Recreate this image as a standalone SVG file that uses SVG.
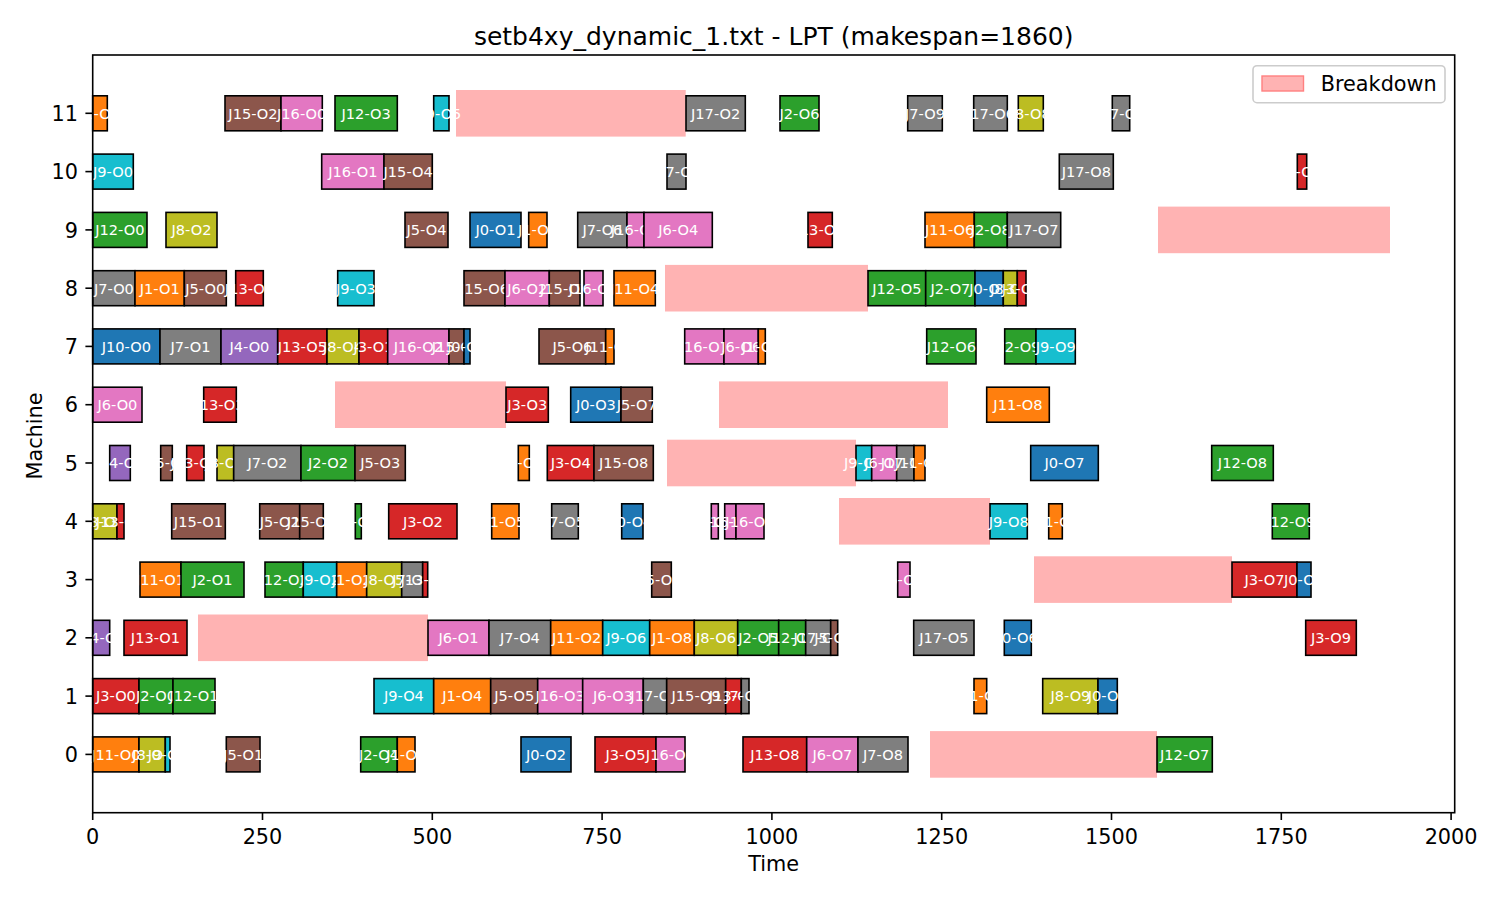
<svg xmlns="http://www.w3.org/2000/svg" width="1500" height="900" viewBox="0 0 1500 900">
<style>
.b{stroke:#000;stroke-width:1.6}
.c0{fill:#1f77b4}.c1{fill:#ff7f0e}.c2{fill:#2ca02c}.c3{fill:#d62728}.c4{fill:#9467bd}
.c5{fill:#8c564b}.c6{fill:#e377c2}.c7{fill:#7f7f7f}.c8{fill:#bcbd22}.c9{fill:#17becf}
.t{font-family:"DejaVu Sans",sans-serif;font-size:14.6px;fill:#fff;text-anchor:middle}
.bd{fill:#ffb3b3}
.ax{font-family:"DejaVu Sans",sans-serif;font-size:20.8px;fill:#000}
.tk{stroke:#000;stroke-width:1.6}
</style>
<rect width="1500" height="900" fill="#fff"/>
<text class="ax" x="773.7" y="45" text-anchor="middle" style="font-size:25px">setb4xy_dynamic_1.txt - LPT (makespan=1860)</text>

<g id="breakdowns">
<rect class="bd" x="456" y="90" width="229.7" height="46.6"/>
<rect class="bd" x="1158" y="206.6" width="232" height="46.6"/>
<rect class="bd" x="665" y="264.9" width="203" height="46.6"/>
<rect class="bd" x="335" y="381.4" width="171" height="46.6"/>
<rect class="bd" x="719" y="381.4" width="229" height="46.6"/>
<rect class="bd" x="667" y="439.7" width="189" height="46.6"/>
<rect class="bd" x="839" y="498" width="151" height="46.6"/>
<rect class="bd" x="1034" y="556.3" width="198" height="46.6"/>
<rect class="bd" x="198" y="614.5" width="230" height="46.6"/>
<rect class="bd" x="930" y="731.1" width="227" height="46.6"/>
</g>

<g id="machine-11" transform="translate(0,113.3)">
<g id="J1-O0"><rect class="b c1" x="92.7" y="-17.5" width="14.6" height="35"/><text class="t" x="100" y="5.3">J1-O0</text></g>
<g id="J15-O2"><rect class="b c5" x="225" y="-17.5" width="56" height="35"/><text class="t" x="253" y="5.3">J15-O2</text></g>
<g id="J16-O0"><rect class="b c6" x="281" y="-17.5" width="41.3" height="35"/><text class="t" x="301.7" y="5.3">J16-O0</text></g>
<g id="J12-O3"><rect class="b c2" x="335" y="-17.5" width="62.3" height="35"/><text class="t" x="366.2" y="5.3">J12-O3</text></g>
<g id="J9-O5"><rect class="b c9" x="433.7" y="-17.5" width="15.3" height="35"/><text class="t" x="441.4" y="5.3">J9-O5</text></g>
<g id="J17-O2"><rect class="b c7" x="686" y="-17.5" width="59.3" height="35"/><text class="t" x="715.7" y="5.3">J17-O2</text></g>
<g id="J2-O6"><rect class="b c2" x="780" y="-17.5" width="39" height="35"/><text class="t" x="799.5" y="5.3">J2-O6</text></g>
<g id="J7-O9"><rect class="b c7" x="907.7" y="-17.5" width="34.6" height="35"/><text class="t" x="925" y="5.3">J7-O9</text></g>
<g id="J17-O6"><rect class="b c7" x="973.7" y="-17.5" width="33.6" height="35"/><text class="t" x="990.5" y="5.3">J17-O6</text></g>
<g id="J8-O8"><rect class="b c8" x="1018.3" y="-17.5" width="25" height="35"/><text class="t" x="1030.8" y="5.3">J8-O8</text></g>
<g id="J17-O9"><rect class="b c7" x="1112.3" y="-17.5" width="17.4" height="35"/><text class="t" x="1121" y="5.3">J17-O9</text></g>
</g>

<g id="machine-10" transform="translate(0,171.6)">
<g id="J9-O0"><rect class="b c9" x="92.7" y="-17.5" width="40.6" height="35"/><text class="t" x="113" y="5.3">J9-O0</text></g>
<g id="J16-O1"><rect class="b c6" x="321.7" y="-17.5" width="62.3" height="35"/><text class="t" x="352.9" y="5.3">J16-O1</text></g>
<g id="J15-O4"><rect class="b c5" x="384" y="-17.5" width="48.3" height="35"/><text class="t" x="408.2" y="5.3">J15-O4</text></g>
<g id="J17-O1"><rect class="b c7" x="667" y="-17.5" width="19" height="35"/><text class="t" x="676.5" y="5.3">J17-O1</text></g>
<g id="J17-O8"><rect class="b c7" x="1059.3" y="-17.5" width="54" height="35"/><text class="t" x="1086.3" y="5.3">J17-O8</text></g>
<g id="J3-O8"><rect class="b c3" x="1297.3" y="-17.5" width="9.4" height="35"/><text class="t" x="1302" y="5.3">J3-O8</text></g>
</g>

<g id="machine-9" transform="translate(0,229.9)">
<g id="J12-O0"><rect class="b c2" x="92.7" y="-17.5" width="54.3" height="35"/><text class="t" x="119.9" y="5.3">J12-O0</text></g>
<g id="J8-O2"><rect class="b c8" x="166" y="-17.5" width="51" height="35"/><text class="t" x="191.5" y="5.3">J8-O2</text></g>
<g id="J5-O4"><rect class="b c5" x="405" y="-17.5" width="43" height="35"/><text class="t" x="426.5" y="5.3">J5-O4</text></g>
<g id="J0-O1"><rect class="b c0" x="470" y="-17.5" width="51" height="35"/><text class="t" x="495.5" y="5.3">J0-O1</text></g>
<g id="J1-O7"><rect class="b c1" x="528.7" y="-17.5" width="18.3" height="35"/><text class="t" x="537.9" y="5.3">J1-O7</text></g>
<g id="J7-O6"><rect class="b c7" x="577.7" y="-17.5" width="49.3" height="35"/><text class="t" x="602.4" y="5.3">J7-O6</text></g>
<g id="J16-O5"><rect class="b c6" x="627" y="-17.5" width="17" height="35"/><text class="t" x="635.5" y="5.3">J16-O5</text></g>
<g id="J6-O4"><rect class="b c6" x="644" y="-17.5" width="68.3" height="35"/><text class="t" x="678.2" y="5.3">J6-O4</text></g>
<g id="J13-O9"><rect class="b c3" x="808" y="-17.5" width="24.3" height="35"/><text class="t" x="820.2" y="5.3">J13-O9</text></g>
<g id="J11-O6"><rect class="b c1" x="925" y="-17.5" width="49.3" height="35"/><text class="t" x="949.7" y="5.3">J11-O6</text></g>
<g id="J2-O8"><rect class="b c2" x="974.3" y="-17.5" width="33" height="35"/><text class="t" x="990.8" y="5.3">J2-O8</text></g>
<g id="J17-O7"><rect class="b c7" x="1007.3" y="-17.5" width="53.4" height="35"/><text class="t" x="1034" y="5.3">J17-O7</text></g>
</g>

<g id="machine-8" transform="translate(0,288.2)">
<g id="J7-O0"><rect class="b c7" x="92.7" y="-17.5" width="42.3" height="35"/><text class="t" x="113.9" y="5.3">J7-O0</text></g>
<g id="J1-O1"><rect class="b c1" x="135" y="-17.5" width="49.3" height="35"/><text class="t" x="159.7" y="5.3">J1-O1</text></g>
<g id="J5-O0"><rect class="b c5" x="184.3" y="-17.5" width="42" height="35"/><text class="t" x="205.3" y="5.3">J5-O0</text></g>
<g id="J13-O4"><rect class="b c3" x="235.7" y="-17.5" width="27.6" height="35"/><text class="t" x="249.5" y="5.3">J13-O4</text></g>
<g id="J9-O3"><rect class="b c9" x="337.7" y="-17.5" width="36.3" height="35"/><text class="t" x="355.9" y="5.3">J9-O3</text></g>
<g id="J15-O6"><rect class="b c5" x="464" y="-17.5" width="41" height="35"/><text class="t" x="484.5" y="5.3">J15-O6</text></g>
<g id="J6-O2"><rect class="b c6" x="505" y="-17.5" width="44.3" height="35"/><text class="t" x="527.2" y="5.3">J6-O2</text></g>
<g id="J15-O7"><rect class="b c5" x="549.3" y="-17.5" width="30.7" height="35"/><text class="t" x="564.7" y="5.3">J15-O7</text></g>
<g id="J16-O4"><rect class="b c6" x="584" y="-17.5" width="19" height="35"/><text class="t" x="593.5" y="5.3">J16-O4</text></g>
<g id="J11-O4"><rect class="b c1" x="614" y="-17.5" width="41.3" height="35"/><text class="t" x="634.7" y="5.3">J11-O4</text></g>
<g id="J12-O5"><rect class="b c2" x="868" y="-17.5" width="57.7" height="35"/><text class="t" x="896.9" y="5.3">J12-O5</text></g>
<g id="J2-O7"><rect class="b c2" x="925.7" y="-17.5" width="49.3" height="35"/><text class="t" x="950.4" y="5.3">J2-O7</text></g>
<g id="J0-O5"><rect class="b c0" x="975" y="-17.5" width="28.3" height="35"/><text class="t" x="989.2" y="5.3">J0-O5</text></g>
<g id="J8-O7"><rect class="b c8" x="1003.3" y="-17.5" width="14" height="35"/><text class="t" x="1010.3" y="5.3">J8-O7</text></g>
<g id="J3-O6"><rect class="b c3" x="1017.3" y="-17.5" width="8.7" height="35"/><text class="t" x="1021.7" y="5.3">J3-O6</text></g>
</g>

<g id="machine-7" transform="translate(0,346.4)">
<g id="J10-O0"><rect class="b c0" x="92.7" y="-17.5" width="67.3" height="35"/><text class="t" x="126.4" y="5.3">J10-O0</text></g>
<g id="J7-O1"><rect class="b c7" x="160" y="-17.5" width="61" height="35"/><text class="t" x="190.5" y="5.3">J7-O1</text></g>
<g id="J4-O0"><rect class="b c4" x="221" y="-17.5" width="56.7" height="35"/><text class="t" x="249.4" y="5.3">J4-O0</text></g>
<g id="J13-O5"><rect class="b c3" x="277.7" y="-17.5" width="49.3" height="35"/><text class="t" x="302.4" y="5.3">J13-O5</text></g>
<g id="J8-O4"><rect class="b c8" x="327" y="-17.5" width="32" height="35"/><text class="t" x="343" y="5.3">J8-O4</text></g>
<g id="J3-O1"><rect class="b c3" x="359" y="-17.5" width="28.7" height="35"/><text class="t" x="373.4" y="5.3">J3-O1</text></g>
<g id="J16-O2"><rect class="b c6" x="387.7" y="-17.5" width="61.3" height="35"/><text class="t" x="418.4" y="5.3">J16-O2</text></g>
<g id="J15-O5"><rect class="b c5" x="449" y="-17.5" width="15" height="35"/><text class="t" x="456.5" y="5.3">J15-O5</text></g>
<g id="J0-O0"><rect class="b c0" x="464" y="-17.5" width="6" height="35"/><text class="t" x="467" y="5.3">J0-O0</text></g>
<g id="J5-O6"><rect class="b c5" x="539" y="-17.5" width="66.7" height="35"/><text class="t" x="572.4" y="5.3">J5-O6</text></g>
<g id="J11-O3"><rect class="b c1" x="605.7" y="-17.5" width="8.3" height="35"/><text class="t" x="609.9" y="5.3">J11-O3</text></g>
<g id="J16-O7"><rect class="b c6" x="684.7" y="-17.5" width="39.3" height="35"/><text class="t" x="704.4" y="5.3">J16-O7</text></g>
<g id="J6-O6"><rect class="b c6" x="724" y="-17.5" width="34.3" height="35"/><text class="t" x="741.2" y="5.3">J6-O6</text></g>
<g id="J1-O9"><rect class="b c1" x="758.3" y="-17.5" width="7" height="35"/><text class="t" x="761.8" y="5.3">J1-O9</text></g>
<g id="J12-O6"><rect class="b c2" x="926.7" y="-17.5" width="49.3" height="35"/><text class="t" x="951.4" y="5.3">J12-O6</text></g>
<g id="J2-O9"><rect class="b c2" x="1004.7" y="-17.5" width="31.3" height="35"/><text class="t" x="1020.4" y="5.3">J2-O9</text></g>
<g id="J9-O9"><rect class="b c9" x="1036" y="-17.5" width="39.3" height="35"/><text class="t" x="1055.7" y="5.3">J9-O9</text></g>
</g>

<g id="machine-6" transform="translate(0,404.7)">
<g id="J6-O0"><rect class="b c6" x="92.7" y="-17.5" width="49.3" height="35"/><text class="t" x="117.4" y="5.3">J6-O0</text></g>
<g id="J13-O3"><rect class="b c3" x="203.7" y="-17.5" width="32.6" height="35"/><text class="t" x="220" y="5.3">J13-O3</text></g>
<g id="J3-O3"><rect class="b c3" x="506" y="-17.5" width="42.3" height="35"/><text class="t" x="527.2" y="5.3">J3-O3</text></g>
<g id="J0-O3"><rect class="b c0" x="570.7" y="-17.5" width="50.3" height="35"/><text class="t" x="595.9" y="5.3">J0-O3</text></g>
<g id="J5-O7"><rect class="b c5" x="621" y="-17.5" width="31.3" height="35"/><text class="t" x="636.7" y="5.3">J5-O7</text></g>
<g id="J11-O8"><rect class="b c1" x="986.7" y="-17.5" width="62.6" height="35"/><text class="t" x="1018" y="5.3">J11-O8</text></g>
</g>

<g id="machine-5" transform="translate(0,463)">
<g id="J14-O1"><rect class="b c4" x="109.7" y="-17.5" width="20.6" height="35"/><text class="t" x="120" y="5.3">J14-O1</text></g>
<g id="J15-O0"><rect class="b c5" x="160.7" y="-17.5" width="11.6" height="35"/><text class="t" x="166.5" y="5.3">J15-O0</text></g>
<g id="J13-O2"><rect class="b c3" x="186.7" y="-17.5" width="17.3" height="35"/><text class="t" x="195.4" y="5.3">J13-O2</text></g>
<g id="J8-O3"><rect class="b c8" x="217" y="-17.5" width="16.7" height="35"/><text class="t" x="225.4" y="5.3">J8-O3</text></g>
<g id="J7-O2"><rect class="b c7" x="233.7" y="-17.5" width="67.3" height="35"/><text class="t" x="267.4" y="5.3">J7-O2</text></g>
<g id="J2-O2"><rect class="b c2" x="301" y="-17.5" width="54" height="35"/><text class="t" x="328" y="5.3">J2-O2</text></g>
<g id="J5-O3"><rect class="b c5" x="355" y="-17.5" width="50.3" height="35"/><text class="t" x="380.2" y="5.3">J5-O3</text></g>
<g id="J1-O6"><rect class="b c1" x="518.3" y="-17.5" width="11" height="35"/><text class="t" x="523.8" y="5.3">J1-O6</text></g>
<g id="J3-O4"><rect class="b c3" x="547.3" y="-17.5" width="46.7" height="35"/><text class="t" x="570.7" y="5.3">J3-O4</text></g>
<g id="J15-O8"><rect class="b c5" x="594" y="-17.5" width="59.3" height="35"/><text class="t" x="623.7" y="5.3">J15-O8</text></g>
<g id="J9-O7"><rect class="b c9" x="856" y="-17.5" width="15.7" height="35"/><text class="t" x="863.9" y="5.3">J9-O7</text></g>
<g id="J6-O8"><rect class="b c6" x="871.7" y="-17.5" width="25" height="35"/><text class="t" x="884.2" y="5.3">J6-O8</text></g>
<g id="J17-O4"><rect class="b c7" x="896.7" y="-17.5" width="17.3" height="35"/><text class="t" x="905.4" y="5.3">J17-O4</text></g>
<g id="J11-O5"><rect class="b c1" x="914" y="-17.5" width="11" height="35"/><text class="t" x="919.5" y="5.3">J11-O5</text></g>
<g id="J0-O7"><rect class="b c0" x="1030.7" y="-17.5" width="67.6" height="35"/><text class="t" x="1064.5" y="5.3">J0-O7</text></g>
<g id="J12-O8"><rect class="b c2" x="1211.7" y="-17.5" width="61.6" height="35"/><text class="t" x="1242.5" y="5.3">J12-O8</text></g>
</g>

<g id="machine-4" transform="translate(0,521.3)">
<g id="J8-O0"><rect class="b c8" x="92.7" y="-17.5" width="24.3" height="35"/><text class="t" x="104.9" y="5.3">J8-O0</text></g>
<g id="J13-O0"><rect class="b c3" x="117" y="-17.5" width="7" height="35"/><text class="t" x="120.5" y="5.3">J13-O0</text></g>
<g id="J15-O1"><rect class="b c5" x="171.7" y="-17.5" width="53.6" height="35"/><text class="t" x="198.5" y="5.3">J15-O1</text></g>
<g id="J5-O2"><rect class="b c5" x="259.7" y="-17.5" width="40" height="35"/><text class="t" x="279.7" y="5.3">J5-O2</text></g>
<g id="J15-O3"><rect class="b c5" x="299.7" y="-17.5" width="23.6" height="35"/><text class="t" x="311.5" y="5.3">J15-O3</text></g>
<g id="J2-O3"><rect class="b c2" x="355.3" y="-17.5" width="6" height="35"/><text class="t" x="358.3" y="5.3">J2-O3</text></g>
<g id="J3-O2"><rect class="b c3" x="388.7" y="-17.5" width="68.3" height="35"/><text class="t" x="422.9" y="5.3">J3-O2</text></g>
<g id="J1-O5"><rect class="b c1" x="491.7" y="-17.5" width="27.3" height="35"/><text class="t" x="505.4" y="5.3">J1-O5</text></g>
<g id="J7-O5"><rect class="b c7" x="551.7" y="-17.5" width="26.6" height="35"/><text class="t" x="565" y="5.3">J7-O5</text></g>
<g id="J0-O4"><rect class="b c0" x="621.7" y="-17.5" width="21.3" height="35"/><text class="t" x="632.4" y="5.3">J0-O4</text></g>
<g id="J6-O5"><rect class="b c6" x="711.3" y="-17.5" width="7" height="35"/><text class="t" x="714.8" y="5.3">J6-O5</text></g>
<g id="J16-O8"><rect class="b c6" x="724.7" y="-17.5" width="11.3" height="35"/><text class="t" x="730.4" y="5.3">J16-O8</text></g>
<g id="J16-O9"><rect class="b c6" x="736" y="-17.5" width="28" height="35"/><text class="t" x="750" y="5.3">J16-O9</text></g>
<g id="J9-O8"><rect class="b c9" x="990" y="-17.5" width="37.3" height="35"/><text class="t" x="1008.7" y="5.3">J9-O8</text></g>
<g id="J11-O9"><rect class="b c1" x="1048.7" y="-17.5" width="13.6" height="35"/><text class="t" x="1055.5" y="5.3">J11-O9</text></g>
<g id="J12-O9"><rect class="b c2" x="1272.3" y="-17.5" width="37" height="35"/><text class="t" x="1290.8" y="5.3">J12-O9</text></g>
</g>

<g id="machine-3" transform="translate(0,579.6)">
<g id="J11-O1"><rect class="b c1" x="140" y="-17.5" width="41" height="35"/><text class="t" x="160.5" y="5.3">J11-O1</text></g>
<g id="J2-O1"><rect class="b c2" x="181" y="-17.5" width="63" height="35"/><text class="t" x="212.5" y="5.3">J2-O1</text></g>
<g id="J12-O2"><rect class="b c2" x="265" y="-17.5" width="38.3" height="35"/><text class="t" x="284.2" y="5.3">J12-O2</text></g>
<g id="J9-O2"><rect class="b c9" x="303.3" y="-17.5" width="33.4" height="35"/><text class="t" x="320" y="5.3">J9-O2</text></g>
<g id="J1-O2"><rect class="b c1" x="336.7" y="-17.5" width="30" height="35"/><text class="t" x="351.7" y="5.3">J1-O2</text></g>
<g id="J8-O5"><rect class="b c8" x="366.7" y="-17.5" width="35" height="35"/><text class="t" x="384.2" y="5.3">J8-O5</text></g>
<g id="J7-O3"><rect class="b c7" x="401.7" y="-17.5" width="21" height="35"/><text class="t" x="412.2" y="5.3">J7-O3</text></g>
<g id="J13-O6"><rect class="b c3" x="422.7" y="-17.5" width="5" height="35"/><text class="t" x="425.2" y="5.3">J13-O6</text></g>
<g id="J5-O8"><rect class="b c5" x="651.7" y="-17.5" width="19.6" height="35"/><text class="t" x="661.5" y="5.3">J5-O8</text></g>
<g id="J6-O9"><rect class="b c6" x="897.7" y="-17.5" width="12.3" height="35"/><text class="t" x="903.9" y="5.3">J6-O9</text></g>
<g id="J3-O7"><rect class="b c3" x="1232" y="-17.5" width="65" height="35"/><text class="t" x="1264.5" y="5.3">J3-O7</text></g>
<g id="J0-O9"><rect class="b c0" x="1297" y="-17.5" width="14" height="35"/><text class="t" x="1304" y="5.3">J0-O9</text></g>
</g>

<g id="machine-2" transform="translate(0,637.8)">
<g id="J14-O0"><rect class="b c4" x="92.7" y="-17.5" width="17" height="35"/><text class="t" x="101.2" y="5.3">J14-O0</text></g>
<g id="J13-O1"><rect class="b c3" x="124" y="-17.5" width="63" height="35"/><text class="t" x="155.5" y="5.3">J13-O1</text></g>
<g id="J6-O1"><rect class="b c6" x="428" y="-17.5" width="61" height="35"/><text class="t" x="458.5" y="5.3">J6-O1</text></g>
<g id="J7-O4"><rect class="b c7" x="489" y="-17.5" width="61.7" height="35"/><text class="t" x="519.9" y="5.3">J7-O4</text></g>
<g id="J11-O2"><rect class="b c1" x="550.7" y="-17.5" width="52" height="35"/><text class="t" x="576.7" y="5.3">J11-O2</text></g>
<g id="J9-O6"><rect class="b c9" x="602.7" y="-17.5" width="47" height="35"/><text class="t" x="626.2" y="5.3">J9-O6</text></g>
<g id="J1-O8"><rect class="b c1" x="649.7" y="-17.5" width="44.6" height="35"/><text class="t" x="672" y="5.3">J1-O8</text></g>
<g id="J8-O6"><rect class="b c8" x="694.3" y="-17.5" width="43.4" height="35"/><text class="t" x="716" y="5.3">J8-O6</text></g>
<g id="J2-O5"><rect class="b c2" x="737.7" y="-17.5" width="41" height="35"/><text class="t" x="758.2" y="5.3">J2-O5</text></g>
<g id="J12-O4"><rect class="b c2" x="778.7" y="-17.5" width="27" height="35"/><text class="t" x="792.2" y="5.3">J12-O4</text></g>
<g id="J17-O3"><rect class="b c7" x="805.7" y="-17.5" width="25" height="35"/><text class="t" x="818.2" y="5.3">J17-O3</text></g>
<g id="J5-O9"><rect class="b c5" x="830.7" y="-17.5" width="7" height="35"/><text class="t" x="834.2" y="5.3">J5-O9</text></g>
<g id="J17-O5"><rect class="b c7" x="913.7" y="-17.5" width="60.3" height="35"/><text class="t" x="943.9" y="5.3">J17-O5</text></g>
<g id="J0-O6"><rect class="b c0" x="1004.3" y="-17.5" width="27" height="35"/><text class="t" x="1017.8" y="5.3">J0-O6</text></g>
<g id="J3-O9"><rect class="b c3" x="1305.7" y="-17.5" width="50.6" height="35"/><text class="t" x="1331" y="5.3">J3-O9</text></g>
</g>

<g id="machine-1" transform="translate(0,696.1)">
<g id="J3-O0"><rect class="b c3" x="92.7" y="-17.5" width="46.3" height="35"/><text class="t" x="115.9" y="5.3">J3-O0</text></g>
<g id="J2-O0"><rect class="b c2" x="139" y="-17.5" width="34" height="35"/><text class="t" x="156" y="5.3">J2-O0</text></g>
<g id="J12-O1"><rect class="b c2" x="173" y="-17.5" width="42" height="35"/><text class="t" x="194" y="5.3">J12-O1</text></g>
<g id="J9-O4"><rect class="b c9" x="374" y="-17.5" width="59.7" height="35"/><text class="t" x="403.9" y="5.3">J9-O4</text></g>
<g id="J1-O4"><rect class="b c1" x="433.7" y="-17.5" width="57" height="35"/><text class="t" x="462.2" y="5.3">J1-O4</text></g>
<g id="J5-O5"><rect class="b c5" x="490.7" y="-17.5" width="47" height="35"/><text class="t" x="514.2" y="5.3">J5-O5</text></g>
<g id="J16-O3"><rect class="b c6" x="537.7" y="-17.5" width="45" height="35"/><text class="t" x="560.2" y="5.3">J16-O3</text></g>
<g id="J6-O3"><rect class="b c6" x="582.7" y="-17.5" width="60.6" height="35"/><text class="t" x="613" y="5.3">J6-O3</text></g>
<g id="J17-O0"><rect class="b c7" x="643.3" y="-17.5" width="23.4" height="35"/><text class="t" x="655" y="5.3">J17-O0</text></g>
<g id="J15-O9"><rect class="b c5" x="666.7" y="-17.5" width="59" height="35"/><text class="t" x="696.2" y="5.3">J15-O9</text></g>
<g id="J13-O7"><rect class="b c3" x="725.7" y="-17.5" width="15.6" height="35"/><text class="t" x="733.5" y="5.3">J13-O7</text></g>
<g id="J7-O7"><rect class="b c7" x="741.3" y="-17.5" width="7.7" height="35"/><text class="t" x="745.2" y="5.3">J7-O7</text></g>
<g id="J11-O7"><rect class="b c1" x="974" y="-17.5" width="12.7" height="35"/><text class="t" x="980.4" y="5.3">J11-O7</text></g>
<g id="J8-O9"><rect class="b c8" x="1042.7" y="-17.5" width="55.3" height="35"/><text class="t" x="1070.4" y="5.3">J8-O9</text></g>
<g id="J0-O8"><rect class="b c0" x="1098" y="-17.5" width="19.3" height="35"/><text class="t" x="1107.7" y="5.3">J0-O8</text></g>
</g>

<g id="machine-0" transform="translate(0,754.4)">
<g id="J11-O0"><rect class="b c1" x="92.7" y="-17.5" width="46.3" height="35"/><text class="t" x="115.9" y="5.3">J11-O0</text></g>
<g id="J8-O1"><rect class="b c8" x="139" y="-17.5" width="26.3" height="35"/><text class="t" x="152.2" y="5.3">J8-O1</text></g>
<g id="J9-O1"><rect class="b c9" x="165.3" y="-17.5" width="4.7" height="35"/><text class="t" x="167.7" y="5.3">J9-O1</text></g>
<g id="J5-O1"><rect class="b c5" x="226.3" y="-17.5" width="33.7" height="35"/><text class="t" x="243.2" y="5.3">J5-O1</text></g>
<g id="J2-O4"><rect class="b c2" x="360.7" y="-17.5" width="36.6" height="35"/><text class="t" x="379" y="5.3">J2-O4</text></g>
<g id="J1-O3"><rect class="b c1" x="397.3" y="-17.5" width="17.7" height="35"/><text class="t" x="406.2" y="5.3">J1-O3</text></g>
<g id="J0-O2"><rect class="b c0" x="521" y="-17.5" width="50" height="35"/><text class="t" x="546" y="5.3">J0-O2</text></g>
<g id="J3-O5"><rect class="b c3" x="595" y="-17.5" width="61" height="35"/><text class="t" x="625.5" y="5.3">J3-O5</text></g>
<g id="J16-O6"><rect class="b c6" x="656" y="-17.5" width="29" height="35"/><text class="t" x="670.5" y="5.3">J16-O6</text></g>
<g id="J13-O8"><rect class="b c3" x="743" y="-17.5" width="63.7" height="35"/><text class="t" x="774.9" y="5.3">J13-O8</text></g>
<g id="J6-O7"><rect class="b c6" x="806.7" y="-17.5" width="51.3" height="35"/><text class="t" x="832.4" y="5.3">J6-O7</text></g>
<g id="J7-O8"><rect class="b c7" x="858" y="-17.5" width="50" height="35"/><text class="t" x="883" y="5.3">J7-O8</text></g>
<g id="J12-O7"><rect class="b c2" x="1157" y="-17.5" width="55.3" height="35"/><text class="t" x="1184.7" y="5.3">J12-O7</text></g>
</g>

<g id="axes">
<rect x="92.7" y="55" width="1362" height="757.7" fill="none" stroke="#000" stroke-width="1.6"/>
<g class="tk">
<line x1="92.7" y1="812.7" x2="92.7" y2="820"/>
<line x1="262.5" y1="812.7" x2="262.5" y2="820"/>
<line x1="432.3" y1="812.7" x2="432.3" y2="820"/>
<line x1="602.1" y1="812.7" x2="602.1" y2="820"/>
<line x1="771.9" y1="812.7" x2="771.9" y2="820"/>
<line x1="941.7" y1="812.7" x2="941.7" y2="820"/>
<line x1="1111.5" y1="812.7" x2="1111.5" y2="820"/>
<line x1="1281.3" y1="812.7" x2="1281.3" y2="820"/>
<line x1="1451.1" y1="812.7" x2="1451.1" y2="820"/>
<line x1="85.4" y1="754.4" x2="92.7" y2="754.4"/>
<line x1="85.4" y1="696.1" x2="92.7" y2="696.1"/>
<line x1="85.4" y1="637.8" x2="92.7" y2="637.8"/>
<line x1="85.4" y1="579.6" x2="92.7" y2="579.6"/>
<line x1="85.4" y1="521.3" x2="92.7" y2="521.3"/>
<line x1="85.4" y1="463" x2="92.7" y2="463"/>
<line x1="85.4" y1="404.7" x2="92.7" y2="404.7"/>
<line x1="85.4" y1="346.4" x2="92.7" y2="346.4"/>
<line x1="85.4" y1="288.2" x2="92.7" y2="288.2"/>
<line x1="85.4" y1="229.9" x2="92.7" y2="229.9"/>
<line x1="85.4" y1="171.6" x2="92.7" y2="171.6"/>
<line x1="85.4" y1="113.3" x2="92.7" y2="113.3"/>
</g>
<g class="ax" text-anchor="middle">
<text x="92.7" y="843.5">0</text>
<text x="262.5" y="843.5">250</text>
<text x="432.3" y="843.5">500</text>
<text x="602.1" y="843.5">750</text>
<text x="771.9" y="843.5">1000</text>
<text x="941.7" y="843.5">1250</text>
<text x="1111.5" y="843.5">1500</text>
<text x="1281.3" y="843.5">1750</text>
<text x="1451.1" y="843.5">2000</text>
</g>
<g class="ax" text-anchor="end">
<text x="78" y="762">0</text>
<text x="78" y="703.7">1</text>
<text x="78" y="645.4">2</text>
<text x="78" y="587.2">3</text>
<text x="78" y="528.9">4</text>
<text x="78" y="470.6">5</text>
<text x="78" y="412.3">6</text>
<text x="78" y="354">7</text>
<text x="78" y="295.8">8</text>
<text x="78" y="237.5">9</text>
<text x="78" y="179.2">10</text>
<text x="78" y="120.9">11</text>
</g>
<text class="ax" x="773.7" y="871" text-anchor="middle">Time</text>
<text class="ax" x="0" y="0" text-anchor="middle" transform="translate(42,436) rotate(-90)">Machine</text>
</g>

<g id="legend">
<rect x="1253" y="65.7" width="192" height="37" rx="4" fill="#fff" fill-opacity="0.8" stroke="#cccccc" stroke-width="1.6"/>
<rect x="1262" y="76" width="41.5" height="15" fill="#ffb3b3" stroke="#ff8080" stroke-width="1.4"/>
<text class="ax" x="1320.7" y="91">Breakdown</text>
</g>
</svg>
